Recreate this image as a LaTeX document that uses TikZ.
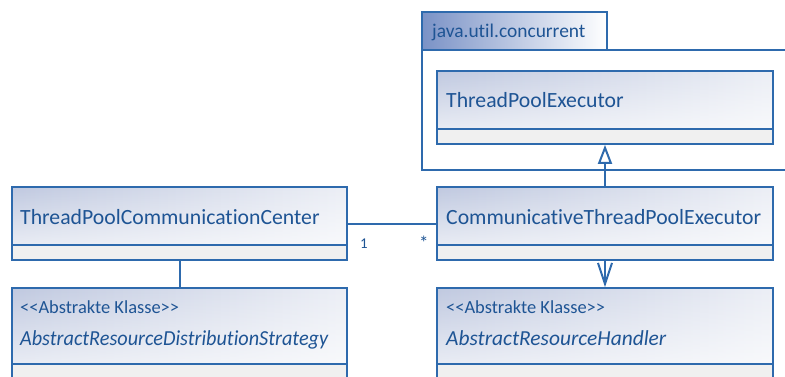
\documentclass[tikz,border=0pt]{standalone}
\usepackage{fontspec}
\setmainfont{Carlito}[Ligatures=NoCommon]
\usetikzlibrary{arrows.meta,fadings}

\definecolor{umlblue}{RGB}{46,106,173}
\definecolor{umltext}{RGB}{30,84,148}
\definecolor{hdrfill}{RGB}{192,201,224}
\definecolor{tabfill}{RGB}{122,146,198}
\definecolor{compfill}{RGB}{240,240,240}

\tikzset{
  % class box: shaded header above a grey attribute compartment of height #1
  umlclass/.style={rectangle, draw=umlblue, line width=1.8bp, inner sep=0pt,
    path picture={
      \shade[left color=hdrfill, right color=hdrfill!30]
        (path picture bounding box.north west) rectangle ([yshift=#1]path picture bounding box.south east);
      \fill[white, path fading=north, fill opacity=0.65]
        (path picture bounding box.north west) rectangle ([yshift=#1]path picture bounding box.south east);
      \fill[compfill]
        ([yshift=#1]path picture bounding box.south west) rectangle (path picture bounding box.south east);
      \draw[umlblue, line width=1.8bp]
        ([yshift=#1]path picture bounding box.south west) -- ([yshift=#1]path picture bounding box.south east);
    }},
  classname/.style={anchor=base west, inner sep=0pt, text=umltext,
    font=\fontsize{21.8}{24}\selectfont},
  abstractname/.style={classname, font=\fontsize{21.5}{24}\selectfont\itshape},
  stereotype/.style={anchor=base west, inner sep=0pt, text=umltext,
    font=\fontsize{18.5}{20}\selectfont},
  multiplicity/.style={anchor=base west, inner sep=0pt, text=umltext,
    font=\fontsize{15}{17}\selectfont},
  link/.style={draw=umlblue, line width=2bp},
}

\begin{document}
\begin{tikzpicture}[x=1bp, y=-1bp]
  \useasboundingbox (0,0) rectangle (785,376);
  \clip (0,0) rectangle (785,376);

  % package java.util.concurrent
  \shade[left color=tabfill, right color=white] (422,12) rectangle (607,50);
  \draw[link, line width=1.8bp] (422,12) rectangle (607,50);
  \draw[link, line width=1.8bp] (800,50) -- (422,50) -- (422,170) -- (800,170);
  \node[anchor=base west, inner sep=0pt, text=umltext,
        font=\fontsize{19.5}{22}\selectfont] (pkg) at (432,37) {java.util.concurrent};

  % classes
  \node[umlclass=15bp, minimum width=336bp, minimum height=73bp] (tpe)  at (605,107.5) {};
  \node[umlclass=15bp, minimum width=335bp, minimum height=73bp] (tpcc) at (179.5,223.5) {};
  \node[umlclass=15bp, minimum width=336bp, minimum height=73bp] (ctpe) at (605,223.5) {};
  \node[umlclass=26bp, minimum width=335bp, minimum height=102bp] (ards) at (179.5,339) {};
  \node[umlclass=26bp, minimum width=336bp, minimum height=102bp] (arh)  at (605,339) {};

  \node[classname] (tpe-name)  at (446,107) {ThreadPoolExecutor};
  \node[classname] (tpcc-name) at (20,224)  {ThreadPoolCommunicationCenter};
  \node[classname] (ctpe-name) at (446,224) {CommunicativeThreadPoolExecutor};
  \node[stereotype] (ards-st)   at (20,313)  {<{}<Abstrakte Klasse>{}>};
  \node[abstractname] (ards-name) at (20,345)
    {\scalebox{0.945}[1]{AbstractResourceDistributionStrategy}};
  \node[stereotype] (arh-st)    at (446,313) {<{}<Abstrakte Klasse>{}>};
  \node[abstractname] (arh-name)  at (446,345) {AbstractResourceHandler};

  % relations
  \draw[link] (tpcc.east) -- (ctpe.west);
  \node[multiplicity] (m-one)  at (360,248) {1};
  \node[multiplicity] (m-many) at (419,249) {\fontsize{19}{20}\selectfont *};

  \draw[link, -{Triangle[open, fill=white, length=19bp, width=14bp]}] (ctpe.north) -- (tpe.south);
  \draw[link, -{Straight Barb[length=21bp, width=14bp]}] (ctpe.south) -- (arh.north);
  \draw[link] (tpcc.south) -- (ards.north);
\end{tikzpicture}
\end{document}
